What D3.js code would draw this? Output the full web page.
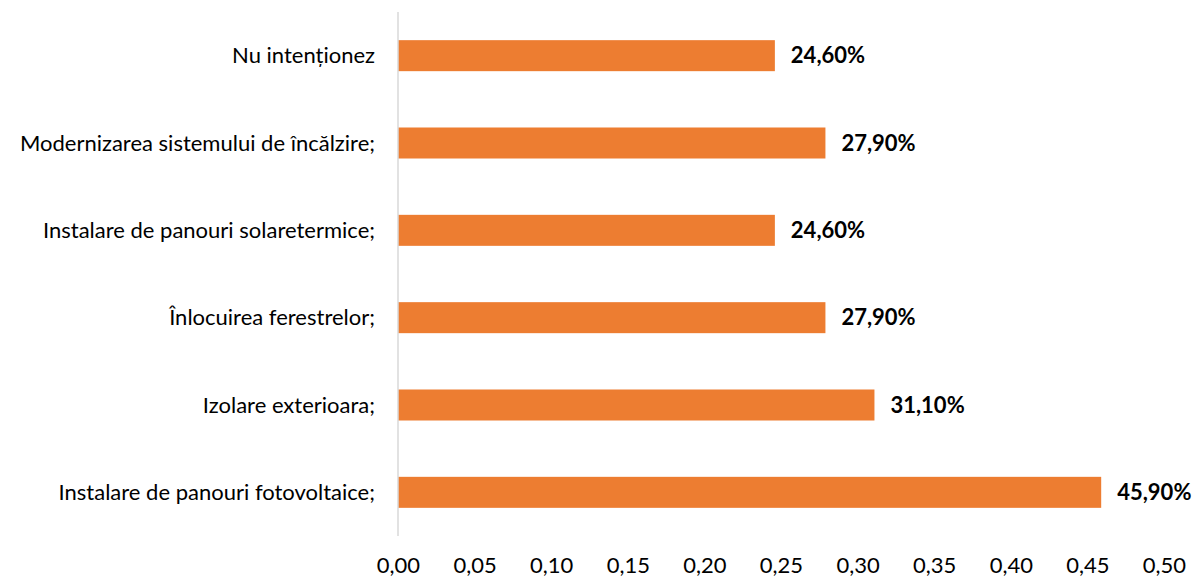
<!DOCTYPE html>
<html>
<head>
<meta charset="utf-8">
<script src="https://cdn.jsdelivr.net/npm/d3@7"></script>
<style>
  body { margin: 0; background: #fff; }
  svg { display: block; font-family: Lato, "Open Sans", sans-serif; }
</style>
</head>
<body>
<div id="chart"></div>
<script>
const categories = [
  'Nu intenționez',
  'Modernizarea sistemului de încălzire;',
  'Instalare de panouri solaretermice;',
  'Înlocuirea ferestrelor;',
  'Izolare exterioara;',
  'Instalare de panouri fotovoltaice;'
];
const values = [0.246, 0.279, 0.246, 0.279, 0.311, 0.459];
const xTicks = [0, 0.05, 0.10, 0.15, 0.20, 0.25, 0.30, 0.35, 0.40, 0.45, 0.50];

const width = 1193;
const height = 578;
const margin = {top: 12, right: 29, bottom: 42, left: 398};
const fontSize = 22;

const data = categories.map((c, i) => ({name: c, value: values[i]}));

const x = d3.scaleLinear()
  .domain([0, 0.5])
  .range([margin.left, width - margin.right]);

const y = d3.scaleBand()
  .domain(categories)
  .range([margin.top, height - margin.bottom])
  .paddingInner(0.645)
  .paddingOuter(0.3225);

const comma = v => d3.format('.2f')(v).replace('.', ',');

const svg = d3.select('#chart').append('svg')
  .attr('width', width)
  .attr('height', height);

svg.append('g')
  .selectAll('rect')
  .data(data)
  .join('rect')
    .attr('x', x(0))
    .attr('y', d => y(d.name))
    .attr('width', d => x(d.value) - x(0))
    .attr('height', y.bandwidth())
    .attr('fill', '#ed7d31');

// vertical category axis line
svg.append('line')
  .attr('x1', x(0)).attr('x2', x(0))
  .attr('y1', margin.top).attr('y2', height - margin.bottom)
  .attr('stroke', '#d9d9d9')
  .attr('stroke-width', 1.5);

// category labels
svg.append('g')
  .selectAll('text')
  .data(data)
  .join('text')
    .attr('x', x(0) - 23)
    .attr('y', d => y(d.name) + y.bandwidth() / 2)
    .attr('dy', '0.35em')
    .attr('text-anchor', 'end')
    .attr('font-size', fontSize)
    .attr('fill', '#000')
    .text(d => d.name);

// value labels
svg.append('g')
  .selectAll('text')
  .data(data)
  .join('text')
    .attr('x', d => x(d.value) + 16)
    .attr('y', d => y(d.name) + y.bandwidth() / 2)
    .attr('dy', '0.35em')
    .attr('font-size', fontSize)
    .attr('font-weight', 'bold')
    .attr('fill', '#000')
    .text(d => comma(d.value * 100) + '%');

// x axis
const xAxis = d3.axisBottom(x)
  .tickValues(xTicks)
  .tickFormat(comma)
  .tickSize(0)
  .tickPadding(0);

const gx = svg.append('g')
  .attr('transform', `translate(0,${height - 5})`)
  .call(xAxis);
gx.select('.domain').remove();
gx.selectAll('text')
  .attr('font-size', fontSize)
  .attr('font-family', 'Lato, "Open Sans", sans-serif')
  .attr('fill', '#000')
  .attr('dy', '0');
</script>
</body>
</html>
